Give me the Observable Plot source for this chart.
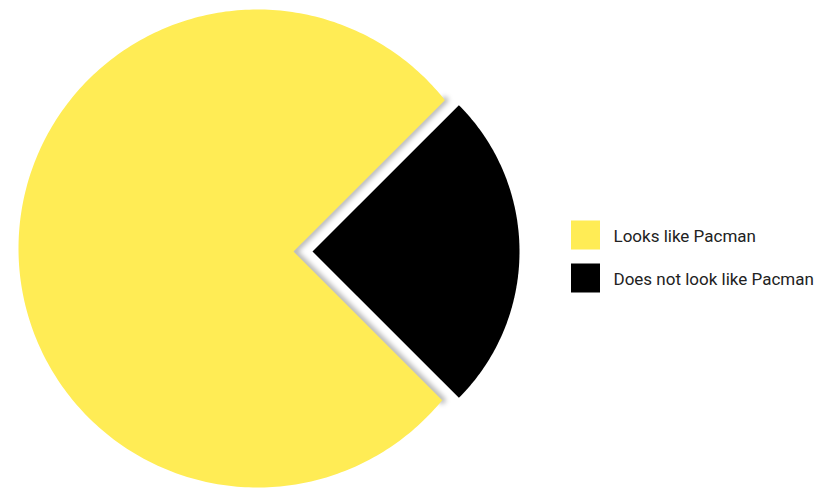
<!DOCTYPE html>
<html>
<head>
<meta charset="utf-8">
<script src="https://cdn.jsdelivr.net/npm/d3@7"></script>
<script src="https://cdn.jsdelivr.net/npm/@observablehq/plot@0.6"></script>
<style>
  html, body { margin: 0; padding: 0; background: #fff; }
</style>
</head>
<body>
<div id="chart"></div>
<script>
// ---- data ----
const categories = ["Looks like Pacman", "Does not look like Pacman"];
const values = [75, 25];
const colors = ["#ffec55", "#000000"];

// ---- layout (pixels) ----
const W = 818, H = 488;
const cx = 257, cy = 248, R = 239;      // main circle
const mouthOffset = 36, apexDy = 3;     // yellow mouth apex shift
const explode = 55, rSmall = 207;       // exploded slice
const legendX = 571, legendSize = 29, legendY0 = 235, legendGap = 43, textX = 613;

const arcs = d3.pie().sort(null)
  .startAngle(3 * Math.PI / 4)
  .endAngle(3 * Math.PI / 4 + 2 * Math.PI)(values);

const dir = a => [Math.sin(a), -Math.cos(a)];
const black = arcs[1];
const mid = (black.startAngle + black.endAngle) / 2;
const [mx, my] = dir(mid);

// exploded slice polygon
const slicePts = [];
const bx = cx + mx * explode, by = cy + my * explode + apexDy;
slicePts.push({x: bx, y: by, k: categories[1]});
for (let i = 0; i <= 120; i++) {
  const a = black.startAngle + (black.endAngle - black.startAngle) * i / 120;
  const [dx, dy] = dir(a);
  slicePts.push({x: bx + rSmall * dx, y: by + rSmall * dy, k: categories[1]});
}

// main slice with offset mouth
const ax = cx + mx * mouthOffset, ay = cy + my * mouthOffset + apexDy;
function corner(a) {
  const [ux, uy] = dir(a);
  const wx = ax - cx, wy = ay - cy;
  const wu = wx * ux + wy * uy;
  const t = -wu + Math.sqrt(wu * wu - (wx * wx + wy * wy) + R * R);
  return [ax + t * ux, ay + t * uy];
}
const angleOf = (px, py) => Math.atan2(px - cx, -(py - cy));
const c1 = corner(black.startAngle); // upper
const c2 = corner(black.endAngle);   // lower
let a2 = angleOf(c2[0], c2[1]);
let a1 = angleOf(c1[0], c1[1]);
while (a1 < a2) a1 += 2 * Math.PI;
const mainPts = [{x: ax, y: ay, k: categories[0]}];
for (let i = 0; i <= 300; i++) {
  const a = a2 + (a1 - a2) * i / 300;
  const [dx, dy] = dir(a);
  mainPts.push({x: cx + R * dx, y: cy + R * dy, k: categories[0]});
}
const shadowPts = [
  {x: c1[0], y: c1[1]}, {x: ax, y: ay}, {x: c2[0], y: c2[1]}
];

const legend = categories.map((c, i) => ({
  name: c, color: colors[i], y: legendY0 + i * legendGap
}));

const chart = Plot.plot({
  width: W, height: H,
  margin: 0,
  x: {domain: [0, W], range: [0, W], axis: null},
  y: {domain: [0, H], range: [0, H], axis: null},
  color: {domain: categories, range: colors},
  style: {fontFamily: "Roboto, sans-serif", fontSize: "17px", background: "#fff"},
  marks: [
    Plot.line(shadowPts, {x: "x", y: "y", translate: 3, stroke: "#000", strokeOpacity: 0.28, strokeWidth: 7, ariaDescription: "shadow"}),
    Plot.line(mainPts, {x: "x", y: "y", fill: "k", stroke: null, curve: "linear-closed"}),
    Plot.line(slicePts, {x: "x", y: "y", fill: "k", stroke: null, curve: "linear-closed"}),
    Plot.rect(legend, {
      x1: () => legendX, x2: () => legendX + legendSize,
      y1: d => d.y - legendSize / 2, y2: d => d.y + legendSize / 2,
      fill: "name"
    }),
    Plot.text(legend, {
      x: () => textX, y: "y", text: "name", textAnchor: "start",
      fill: "#222", fontSize: 17, dy: 1
    })
  ]
});
document.getElementById("chart").appendChild(chart);
chart.querySelectorAll('g[aria-description="shadow"] path').forEach(p => {
  p.style.filter = "blur(2.5px)";
});
</script>
</body>
</html>
